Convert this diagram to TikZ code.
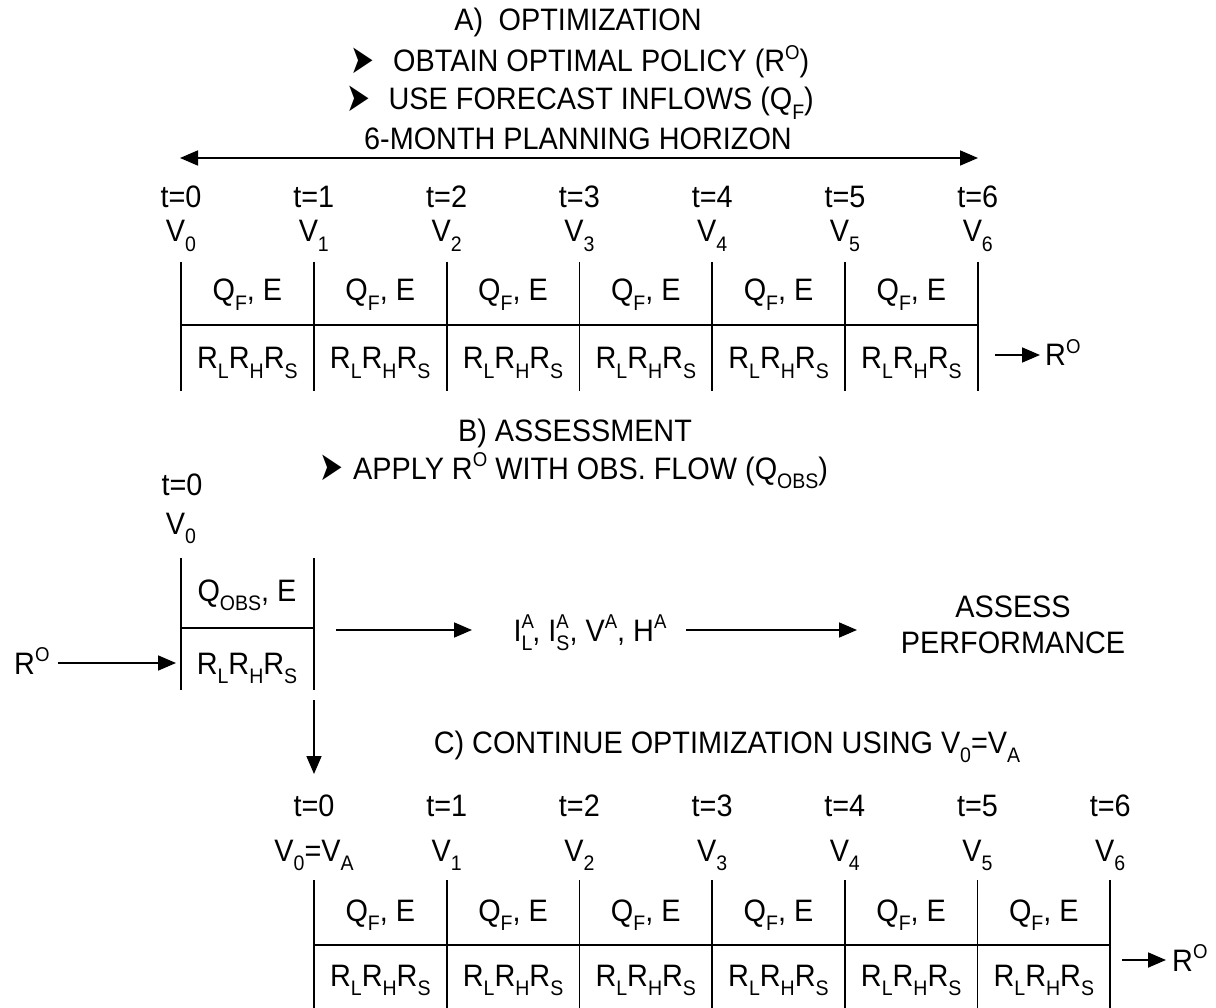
\documentclass[tikz,border=0pt]{standalone}
\usepackage{fontspec}
\usepackage{graphicx}
\setmainfont{Liberation Sans}[FakeStretch=0.93]
\newfontfamily\dvfont{DejaVu Sans}
\usetikzlibrary{arrows.meta}
\newcommand\sbx[1]{\raisebox{-0.32em}{\fontsize{21}{21}\selectfont #1}}
\newcommand\spx[1]{\raisebox{0.40em}{\fontsize{20}{20}\selectfont #1}}
\newcommand\supsubx[2]{\rlap{\spx{#1}}\sbx{#2}}
\newcommand\bul{\raisebox{-0.04em}{\scalebox{0.95}[1.35]{\dvfont\fontsize{30}{30}\selectfont ➤}}}
\begin{document}
\begin{tikzpicture}[x=1pt,y=-1pt,
  txt/.style={inner sep=0pt, anchor=base, font=\fontsize{31}{36}\selectfont},
  ln/.style={line width=1.8pt},
  tip/.tip={Triangle[length=18pt,width=15pt]},
  arr/.style={line width=1.8pt, -tip},
  darr/.style={line width=1.8pt, tip-tip},
]
\useasboundingbox[fill=white] (0,0) rectangle (1216,1008);

% ---------- A) ----------
\node[txt] (tA) at (578,31) {A)\hspace{0.5em}OPTIMIZATION};
\node[txt] (tA1) at (580,72) {\bul\hspace{0.6em}OBTAIN OPTIMAL POLICY (R\spx{O})};
\node[txt] (tA2) at (580,110) {\bul\hspace{0.6em}USE FORECAST INFLOWS (Q\sbx{F})};
\node[txt] (tA3) at (578,150) {6-MONTH PLANNING HORIZON};
\coordinate (hL) at (180,158);
\coordinate (hR) at (978,158);
\draw[darr] (hL) -- (hR);

\foreach \i in {0,...,6} {
  \pgfmathsetmacro\xx{181+132.8*\i}
  \node[txt] (ta\i) at (\xx,208) {t=\i};
  \node[txt] (va\i) at (\xx,242) {V\sbx{\i}};
  \draw[ln] (\xx,262) -- (\xx,391);
}
\foreach \i in {0,...,5} {
  \pgfmathsetmacro\xx{181+132.8*\i+66.4}
  \node[txt] (qa\i) at (\xx,301) {Q\sbx{F}, E};
  \node[txt] (ra\i) at (\xx,369) {R\sbx{L}R\sbx{H}R\sbx{S}};
}
\draw[ln] (181,325) -- (978,325);
\coordinate (aS) at (995,355);
\coordinate (aE) at (1040,355);
\node[txt, anchor=base west] (RoA) at (1045,366) {R\spx{O}};
\draw[arr] (aS) -- (aE);

% ---------- B) ----------
\node[txt] (tB) at (575,441) {B) ASSESSMENT};
\node[txt] (tB1) at (574,479) {\bul\hspace{0.3em}APPLY R\spx{O} WITH OBS. FLOW (Q\sbx{OBS})};
\node[txt] (tb0) at (182,495) {t=0};
\node[txt] (vb0) at (181,534) {V\sbx{0}};
\draw[ln] (181,558) -- (181,690);
\draw[ln] (314,558) -- (314,690);
\draw[ln] (181,628) -- (314,628);
\node[txt] (qb) at (247,601) {Q\sbx{OBS}, E};
\node[txt] (rb) at (247,674) {R\sbx{L}R\sbx{H}R\sbx{S}};
\node[txt, anchor=base west] (RoB) at (14,674) {R\spx{O}};
\coordinate (bIn) at (176,663);
\draw[arr] (RoB.east |- bIn) ++(8,0) coordinate (bS) -- (bIn);
\coordinate (bOut) at (336,630);
\node[txt] (IA) at (590,641) {I\supsubx{A}{L}, I\supsubx{A}{S}, V\spx{A}, H\spx{A}};
\coordinate (bIA) at (472,630);
\draw[arr] (bOut) -- (bIA);
\coordinate (cS) at (686,630);
\coordinate (cE) at (857,630);
\draw[arr] (cS) -- (cE);
\node[txt, align=center, anchor=center] (asp) at (1013,625) {ASSESS\\PERFORMANCE};
\coordinate (dS) at (314,700);
\coordinate (dE) at (314,774);
\draw[arr] (dS) -- (dE);

% ---------- C) ----------
\node[txt] (tC) at (727,753) {C) CONTINUE OPTIMIZATION USING V\sbx{0}=V\sbx{A}};
\foreach \i in {0,...,6} {
  \pgfmathsetmacro\xx{314+132.7*\i}
  \ifnum\i=0
    \node[txt] (tc\i) at (\xx,816) {t=\i};
    \node[txt] (vc\i) at (\xx,861) {V\sbx{0}=V\sbx{A}};
  \else
    \node[txt] (tc\i) at (\xx,816) {t=\i};
    \node[txt] (vc\i) at (\xx,861) {V\sbx{\i}};
  \fi
  \draw[ln] (\xx,880) -- (\xx,1010);
}
\foreach \i in {0,...,5} {
  \pgfmathsetmacro\xx{314+132.7*\i+66.35}
  \node[txt] (qc\i) at (\xx,921) {Q\sbx{F}, E};
  \node[txt] (rc\i) at (\xx,986) {R\sbx{L}R\sbx{H}R\sbx{S}};
}
\draw[ln] (314,945) -- (1110,945);
\coordinate (eS) at (1122,960);
\coordinate (eE) at (1166,960);
\node[txt, anchor=base west] (RoC) at (1172,971) {R\spx{O}};
\draw[arr] (eS) -- (eE);
\end{tikzpicture}
\end{document}
